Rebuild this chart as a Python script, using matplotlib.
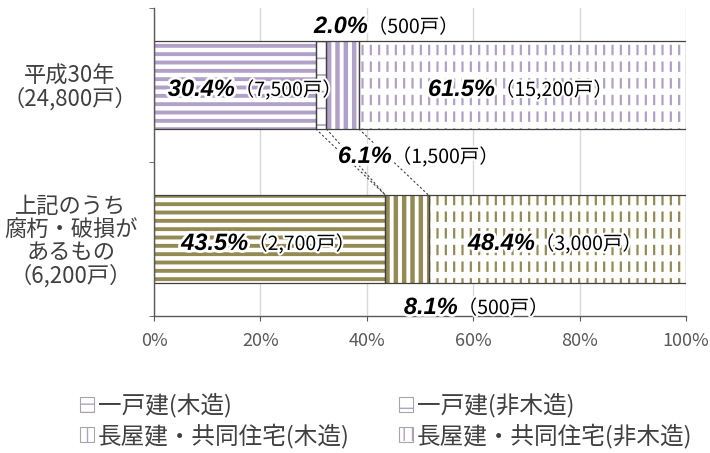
import matplotlib
matplotlib.use('Agg')
import matplotlib.pyplot as plt
import matplotlib.patheffects as pe
from matplotlib.patches import Patch

plt.rcParams['font.family'] = ['Noto Sans CJK JP', 'DejaVu Sans']

# data
categories = ['平成30年\n（24,800戸）', '上記のうち\n腐朽・破損が\nあるもの\n（6,200戸）']
series = ['一戸建(木造)', '一戸建(非木造)', '長屋建・共同住宅(木造)', '長屋建・共同住宅(非木造)']
share_2018 = [30.4, 2.0, 6.1, 61.5]
share_damaged = [43.5, 0.0, 8.1, 48.4]
homes_2018 = ['7,500', '500', '1,500', '15,200']
homes_damaged = ['2,700', '', '500', '3,000']
x_ticks = [0, 20, 40, 60, 80, 100]

purple = '#B1A0C7'
olive = '#948A54'
edge = '#404040'
cjk = ['Noto Sans CJK JP', 'DejaVu Sans']

# hatch style per series: (hatch, hatch linewidth, white cut-lines over it?)
styles = [('--', 2.8, None), ('-', 1.2, None), ('||', 3.2, None), ('||', 1.6, '-')]

fig = plt.figure(figsize=(7.1, 4.53), dpi=100)
ax = fig.add_axes([154/710, 1 - 316/453, 532/710, 308/453])

rows = [share_2018, share_damaged]
colors = [purple, olive]
bar_h = 0.57


def hatched_bar(y, width, left, color, hatch, hlw, cut):
    with plt.rc_context({'hatch.linewidth': hlw}):
        b = ax.barh(y, width, left=left, height=bar_h, color='white',
                    edgecolor=color, hatch=hatch, linewidth=0, zorder=2)
    for p in b:
        if hasattr(p, 'set_hatch_linewidth'):
            p.set_hatch_linewidth(hlw)
    if cut:
        with plt.rc_context({'hatch.linewidth': 4.5}):
            c = ax.barh(y, width, left=left, height=bar_h, color='none',
                        edgecolor='white', hatch=cut, linewidth=0, zorder=2.1)
        for p in c:
            if hasattr(p, 'set_hatch_linewidth'):
                p.set_hatch_linewidth(4.5)
    ax.barh(y, width, left=left, height=bar_h, color='none',
            edgecolor=edge, linewidth=0.9, zorder=2.2)


cums = []
for i, (vals, col) in enumerate(zip(rows, colors)):
    left = 0
    cum = []
    for v, (h, hlw, cut) in zip(vals, styles):
        if v > 0:
            hatched_bar(i, v, left, col, h, hlw, cut)
        left += v
        cum.append(left)
    cums.append(cum)

# series lines between the bars
for a, b in zip(cums[0], cums[1]):
    ax.plot([a, b], [bar_h / 2, 1 - bar_h / 2], color=edge, lw=0.8,
            ls=(0, (2, 2)), zorder=1.5)

# data labels: (row, series, x anchor in %, baseline y)
label_at = [(0, 0, 15.2, 0.071), (0, 1, 40.2, -0.338), (0, 2, 44.7, 0.506),
            (0, 3, 64.1, 0.071), (1, 0, 17.7, 1.071), (1, 2, 57.1, 1.487),
            (1, 3, 71.6, 1.071)]
homes = [homes_2018, homes_damaged]
halo = [pe.withStroke(linewidth=4, foreground='white')]
halo2 = [pe.withStroke(linewidth=3, foreground='white')]
for r, s, x, y in label_at:
    ax.text(x, y, f'{rows[r][s]:.1f}%', ha='right', va='baseline',
            family=['Liberation Sans', 'DejaVu Sans'], fontsize=17,
            weight='bold', style='italic', color='black', zorder=5,
            path_effects=halo)
    ax.text(x, y, f'（{homes[r][s]}戸）', ha='left', va='baseline',
            family=cjk, fontsize=14, color='black', zorder=5,
            path_effects=halo2)

ax.set_xlim(0, 100)
ax.set_ylim(1.5, -0.5)
ax.set_xticks(x_ticks)
ax.set_xticklabels([f'{v}%' for v in x_ticks], family=cjk, fontsize=13,
                   color='#595959')
ax.tick_params(axis='x', direction='out', length=3.5, color='#595959', pad=8)
ax.set_yticks([0, 1])
ax.set_yticklabels(categories, family=cjk, fontsize=16, color=edge,
                   linespacing=1.0)
for t in ax.get_yticklabels():
    t.set_multialignment('center')
ax.tick_params(axis='y', which='major', length=0, pad=12)
ax.set_yticks([-0.5, 0.5, 1.5], minor=True)
ax.tick_params(axis='y', which='minor', direction='out', length=3.5,
               color='#595959')
ax.grid(axis='x', color='#D9D9D9', lw=1, zorder=0)
ax.set_axisbelow(True)
for s in ['top', 'right']:
    ax.spines[s].set_visible(False)
for s in ['left', 'bottom']:
    ax.spines[s].set_color('#595959')
    ax.spines[s].set_linewidth(1)

# legend
handles = []
for h, hlw, cut in styles:
    parts = []
    with plt.rc_context({'hatch.linewidth': hlw * 0.6}):
        base = Patch(facecolor='white', edgecolor=purple, hatch=h, linewidth=0)
    if hasattr(base, 'set_hatch_linewidth'):
        base.set_hatch_linewidth(hlw * 0.6)
    parts.append(base)
    if cut:
        with plt.rc_context({'hatch.linewidth': 3}):
            wc = Patch(facecolor='none', edgecolor='white', hatch=cut,
                       linewidth=0)
        if hasattr(wc, 'set_hatch_linewidth'):
            wc.set_hatch_linewidth(3)
        parts.append(wc)
    parts.append(Patch(facecolor='none', edgecolor='#A6A6A6', linewidth=0.8))
    handles.append(tuple(parts))
order = [0, 2, 1, 3]
fig.legend([handles[i] for i in order], [series[i] for i in order], ncol=2,
           loc='upper left', bbox_to_anchor=(68/710, 1 - 381/453),
           frameon=False, borderpad=0, handlelength=0.6, handleheight=0.6,
           handletextpad=0.15, columnspacing=2.1, labelspacing=0.25,
           prop={'family': cjk, 'size': 17}, labelcolor=edge)

fig.savefig('out.png', dpi=100)
